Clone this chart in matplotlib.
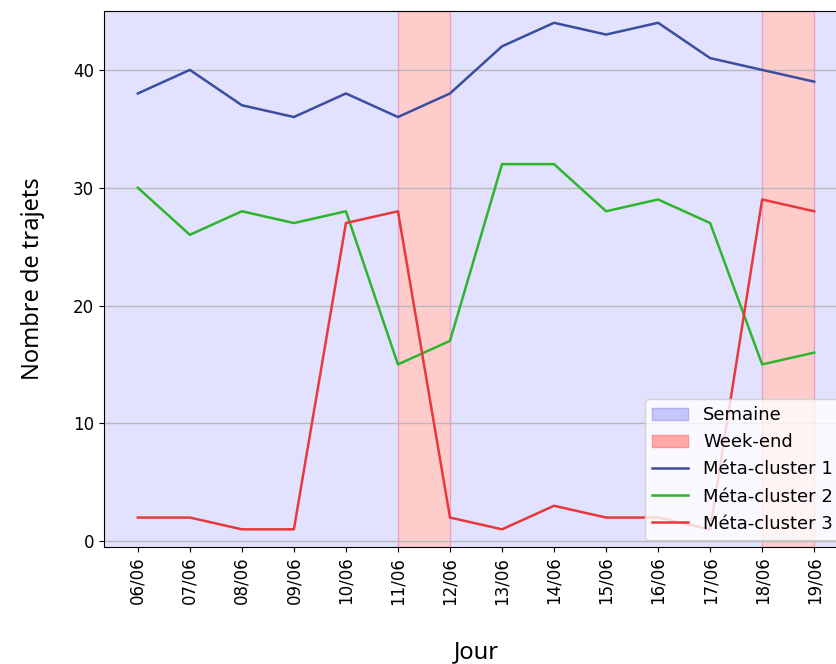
import matplotlib
matplotlib.use("Agg")
import matplotlib.pyplot as plt
from matplotlib.patches import Patch
from matplotlib.lines import Line2D

days = ["06/06", "07/06", "08/06", "09/06", "10/06", "11/06", "12/06",
        "13/06", "14/06", "15/06", "16/06", "17/06", "18/06", "19/06"]
cluster1 = [38, 40, 37, 36, 38, 36, 38, 42, 44, 43, 44, 41, 40, 39]
cluster2 = [30, 26, 28, 27, 28, 15, 17, 32, 32, 28, 29, 27, 15, 16]
cluster3 = [2, 2, 1, 1, 27, 28, 2, 1, 3, 2, 2, 1, 29, 28]
weekends = [("11/06", "12/06"), ("18/06", "19/06")]

c1 = "#3a4d9f"
c2 = "#2db52d"
c3 = "#e8383b"

fig = plt.figure(figsize=(8.36, 6.64), dpi=100)
ax = fig.add_axes([104 / 836, 117 / 664, 744 / 836, 536 / 664])

x = list(range(len(days)))
ax.set_xlim(-0.65, len(days) - 1 + 0.65)
ax.set_ylim(-0.5, 45)

# fond semaine
ax.axvspan(-0.65, len(days) - 1 + 0.65, facecolor="#e2e2ff", edgecolor="none", zorder=0)
for a, b in weekends:
    ax.axvspan(days.index(a), days.index(b), facecolor="#ffcccc",
               edgecolor="#e8a0c8", linewidth=1, zorder=0.5)

ax.yaxis.grid(True, color="#b8b8b8", linewidth=1, zorder=1)
ax.set_axisbelow(True)

ax.plot(x, cluster1, color=c1, linewidth=1.8, zorder=3)
ax.plot(x, cluster2, color=c2, linewidth=1.8, zorder=3)
ax.plot(x, cluster3, color=c3, linewidth=1.8, zorder=3)

ax.set_xticks(x)
ax.set_xticklabels(days, rotation=90, fontsize=12)
ax.set_yticks([0, 10, 20, 30, 40])
ax.tick_params(axis="y", labelsize=12)

ax.set_xlabel("Jour", fontsize=17, labelpad=26, family="Noto Sans")
ax.set_ylabel("Nombre de trajets", fontsize=17, labelpad=20, family="Noto Sans")

handles = [
    Patch(facecolor="#c6c6fa", edgecolor="#b0b0f0", label="Semaine"),
    Patch(facecolor="#ffaaaa", edgecolor="#ff9090", label="Week-end"),
    Line2D([], [], color=c1, linewidth=1.8, label="Méta-cluster 1"),
    Line2D([], [], color=c2, linewidth=1.8, label="Méta-cluster 2"),
    Line2D([], [], color=c3, linewidth=1.8, label="Méta-cluster 3"),
]
ax.legend(handles=handles, loc="lower right", fontsize=13,
          bbox_to_anchor=(0.999, 0.0), borderaxespad=0.4)

fig.savefig("out.png", dpi=100)
